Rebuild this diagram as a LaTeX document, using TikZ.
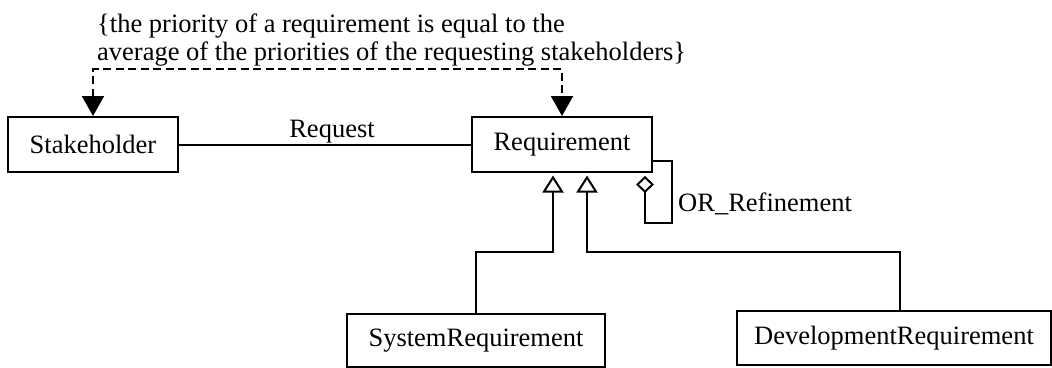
\documentclass[tikz,border=0pt]{standalone}
\usepackage{fontspec}
\setmainfont{Liberation Serif}
\usetikzlibrary{arrows.meta}
\begin{document}
\begin{tikzpicture}[x=1pt,y=-1pt,
  every node/.style={font=\fontsize{26.5}{28}\selectfont},
  line/.style={line width=2pt, line join=miter},
  classbox/.style={draw, line, rectangle, inner sep=0pt, minimum height=55pt},
  dep/.style={line, dash pattern=on 8pt off 4.5pt,
    {Triangle[length=20pt,width=22pt]}-{Triangle[length=20pt,width=22pt]}},
  gen/.style={line, -{Triangle[open,fill=white,length=17pt,width=21pt]}},
  aggr/.style={line, -{Diamond[open,fill=white,length=17pt,width=18pt]}},
  lbl/.style={inner sep=0pt, anchor=base west}]
\useasboundingbox (0,0) rectangle (1052,367);

% classes
\node[classbox, minimum width=170pt] (sh)  at (93,144.5)  {Stakeholder};
\node[classbox, minimum width=180pt] (req) at (562,144.5) {Requirement};
\node[classbox, minimum width=258pt, minimum height=53pt] (sys) at (476,340.5) {SystemRequirement};
\node[classbox, minimum width=314pt, minimum height=54pt] (dev) at (894,338) {DevelopmentRequirement};

% constraint text
\node[lbl] (c1) at (97,32) {\{the priority of a requirement is equal to the};
\node[lbl] (c2) at (97,60) {average of the priorities of the requesting stakeholders\}};

% constraint dependency
\coordinate (cy) at (0,69);
\draw[dep] (sh.north) -- (sh.north |- cy) -- (req.north |- cy) -- (req.north);

% association
\draw[line] (sh.east) -- (req.west);
\node[inner sep=0pt, anchor=base] (rq) at (332,137) {Request};

% generalizations (small gap below the superclass box)
\coordinate (g1) at (553,252);
\coordinate (g2) at (587,252);
\coordinate (dj) at (900,252);
\draw[gen] (sys.north) |- (g1) -- ([yshift=-2.5pt]g1 |- req.south);
\draw[gen] (dj |- dev.north) -- (dj) -- (g2) -- ([yshift=-2.5pt]g2 |- req.south);

% self aggregation
\coordinate (l1) at (672,161);
\coordinate (l2) at (645,223);
\draw[aggr] (l1 -| req.east) -- (l1) |- (l2) -- ([yshift=-3pt]l2 |- req.south);
\node[lbl] (orr) at (678,211) {OR\_Refinement};
\end{tikzpicture}
\end{document}
